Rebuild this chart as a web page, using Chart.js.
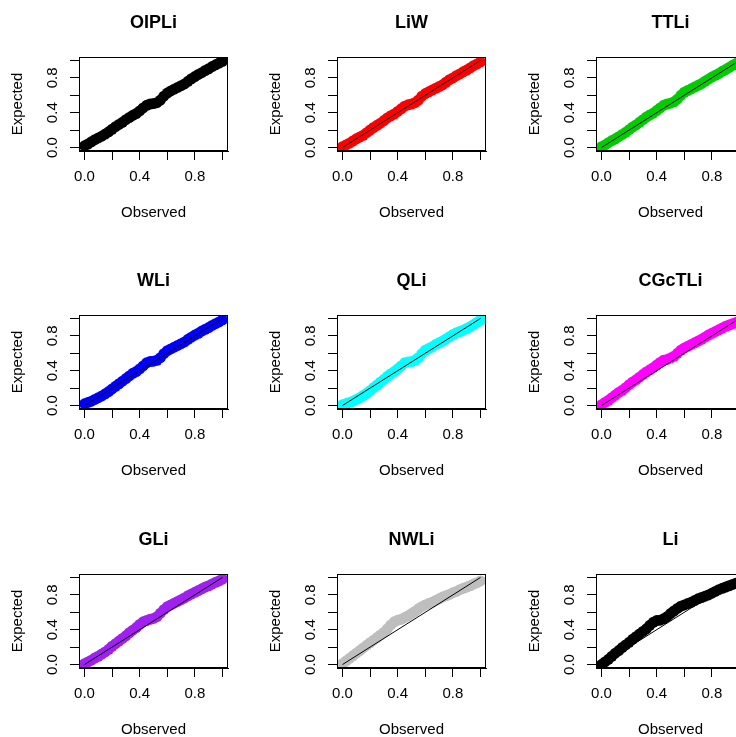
<!DOCTYPE html>
<html>
<head>
<meta charset="utf-8">
<script src="https://cdn.jsdelivr.net/npm/chart.js@4.4.0/dist/chart.umd.min.js"></script>
<style>
html, body { margin: 0; padding: 0; background: #fff; overflow: hidden; }
#grid { position: relative; width: 775px; height: 775px; }
#grid canvas { position: absolute; }
</style>
</head>
<body>
<div id="grid"></div>
<script>
// P-P plots: observed vs expected probabilities for each fitted model
var observed = [0, 0.025, 0.05, 0.075, 0.1, 0.125, 0.15, 0.175, 0.2, 0.225, 0.25, 0.275, 0.3, 0.325, 0.35, 0.375, 0.4, 0.425, 0.45, 0.475,
                0.5, 0.525, 0.55, 0.575, 0.6, 0.625, 0.65, 0.675, 0.7, 0.725, 0.75, 0.775, 0.8, 0.825, 0.85, 0.875, 0.9, 0.925, 0.95, 0.975, 1];

var expOIPLi = [0.02, 0.04, 0.065, 0.09, 0.11, 0.13, 0.155, 0.18, 0.21, 0.24, 0.265, 0.29, 0.32, 0.345, 0.37, 0.39, 0.42, 0.455, 0.485, 0.50,
                0.505, 0.515, 0.545, 0.59, 0.625, 0.65, 0.67, 0.69, 0.71, 0.73, 0.76, 0.79, 0.815, 0.84, 0.86, 0.885, 0.905, 0.93, 0.95, 0.97, 0.99];
var expLiW   = [0.01, 0.03, 0.05, 0.075, 0.10, 0.12, 0.14, 0.17, 0.20, 0.23, 0.255, 0.28, 0.31, 0.34, 0.365, 0.385, 0.415, 0.445, 0.475, 0.49,
                0.50, 0.515, 0.545, 0.59, 0.62, 0.64, 0.66, 0.68, 0.70, 0.72, 0.75, 0.78, 0.80, 0.825, 0.845, 0.87, 0.89, 0.915, 0.94, 0.96, 0.985];
var expTTLi  = [0.01, 0.03, 0.055, 0.08, 0.10, 0.125, 0.15, 0.175, 0.205, 0.235, 0.26, 0.29, 0.32, 0.35, 0.375, 0.395, 0.425, 0.455, 0.485, 0.50,
                0.51, 0.525, 0.555, 0.60, 0.635, 0.655, 0.675, 0.695, 0.715, 0.735, 0.76, 0.785, 0.81, 0.83, 0.85, 0.875, 0.895, 0.92, 0.945, 0.965, 0.99];
var expWLi   = [0.02, 0.035, 0.05, 0.07, 0.09, 0.11, 0.135, 0.16, 0.19, 0.22, 0.25, 0.28, 0.31, 0.34, 0.37, 0.39, 0.42, 0.455, 0.49, 0.505,
                0.51, 0.52, 0.55, 0.595, 0.63, 0.65, 0.67, 0.69, 0.71, 0.73, 0.76, 0.785, 0.81, 0.83, 0.855, 0.875, 0.895, 0.92, 0.94, 0.96, 0.985];
var expQLi   = [0.01, 0.02, 0.035, 0.05, 0.07, 0.09, 0.115, 0.14, 0.17, 0.205, 0.235, 0.27, 0.30, 0.335, 0.365, 0.39, 0.42, 0.455, 0.49, 0.50,
                0.505, 0.52, 0.55, 0.595, 0.635, 0.655, 0.675, 0.70, 0.72, 0.74, 0.765, 0.79, 0.815, 0.835, 0.85, 0.865, 0.885, 0.905, 0.93, 0.955, 0.985];
var expCGcTLi = [0.01, 0.035, 0.06, 0.09, 0.12, 0.15, 0.175, 0.205, 0.24, 0.27, 0.295, 0.325, 0.355, 0.385, 0.41, 0.435, 0.465, 0.495, 0.52, 0.53,
                0.545, 0.565, 0.60, 0.635, 0.66, 0.68, 0.70, 0.72, 0.74, 0.76, 0.785, 0.81, 0.83, 0.85, 0.87, 0.89, 0.91, 0.925, 0.94, 0.955, 0.97];
var expGLi   = [0.01, 0.03, 0.05, 0.075, 0.095, 0.12, 0.145, 0.175, 0.21, 0.24, 0.27, 0.30, 0.33, 0.365, 0.395, 0.425, 0.46, 0.49, 0.505, 0.52,
                0.53, 0.55, 0.59, 0.63, 0.665, 0.685, 0.705, 0.725, 0.745, 0.765, 0.79, 0.81, 0.83, 0.85, 0.87, 0.89, 0.905, 0.925, 0.945, 0.96, 0.98];
var expNWLi  = [0.01, 0.04, 0.07, 0.10, 0.13, 0.16, 0.19, 0.22, 0.25, 0.28, 0.31, 0.34, 0.37, 0.41, 0.455, 0.49, 0.51, 0.52, 0.54, 0.56,
                0.585, 0.61, 0.64, 0.665, 0.685, 0.70, 0.715, 0.735, 0.755, 0.775, 0.79, 0.805, 0.825, 0.84, 0.86, 0.875, 0.89, 0.905, 0.925, 0.94, 0.96];
var expLi    = [0.0, 0.03, 0.06, 0.095, 0.13, 0.16, 0.195, 0.225, 0.255, 0.29, 0.32, 0.35, 0.38, 0.41, 0.45, 0.485, 0.505, 0.51, 0.525, 0.55,
                0.585, 0.615, 0.645, 0.67, 0.685, 0.70, 0.715, 0.735, 0.755, 0.77, 0.785, 0.80, 0.82, 0.84, 0.86, 0.875, 0.89, 0.905, 0.92, 0.935, 0.95];

var titles = ['OIPLi', 'LiW', 'TTLi', 'WLi', 'QLi', 'CGcTLi', 'GLi', 'NWLi', 'Li'];
var series = [expOIPLi, expLiW, expTTLi, expWLi, expQLi, expCGcTLi, expGLi, expNWLi, expLi];
var colors = ['#000000', '#ff0000', '#00cd00', '#0000ff', '#00ffff', '#ff00ff', '#a020f0', '#bebebe', '#000000'];

var refLine = [0, 1];
var tickValues = [0, 0.2, 0.4, 0.6, 0.8, 1];
var tickLabels = ['0.0', '', '0.4', '', '0.8', ''];

Chart.defaults.font.family = "'Liberation Sans', Arial, Helvetica, sans-serif";
Chart.defaults.color = '#000';

// R-style box round the plot region
var boxPlugin = {
  id: 'box',
  afterDraw: function(chart) {
    var a = chart.chartArea, c = chart.ctx;
    c.save();
    c.strokeStyle = '#000';
    c.lineWidth = 1;
    c.strokeRect(Math.round(a.left) + 0.5, Math.round(a.top) + 0.5,
                 Math.round(a.right) - Math.round(a.left) - 1, Math.round(a.bottom) - Math.round(a.top) - 1);
    c.restore();
  }
};

function axis(title, isY) {
  return {
    type: 'linear',
    min: -0.04,
    max: 1.04,
    afterBuildTicks: function(s) { s.ticks = tickValues.map(function(v) { return { value: v }; }); },
    afterFit: function(s) { if (isY) { s.width = 79; } else { s.height = 107; } },
    grid: { drawOnChartArea: false, drawTicks: true, tickLength: 9, color: '#000', lineWidth: 1 },
    border: { display: true, color: '#000', width: 1 },
    ticks: {
      autoSkip: false,
      font: { size: 15 },
      padding: isY ? 7 : 8,
      minRotation: isY ? 90 : 0,
      maxRotation: isY ? 90 : 0,
      crossAlign: isY ? 'center' : 'near',
      callback: function(v, i) { return tickLabels[i]; }
    },
    title: { display: true, text: title, font: { size: 15 }, padding: isY ? { top: 9 } : { bottom: 36 } }
  };
}

// empty right-hand margin, so the main title centres over the plot box
var spacer = {
  type: 'linear',
  position: 'right',
  display: true,
  afterFit: function(s) { s.width = 79; },
  grid: { display: false },
  border: { display: false },
  ticks: { display: false }
};

var grid = document.getElementById('grid');
titles.forEach(function(name, k) {
  var col = k % 3, row = Math.floor(k / 3);
  var cv = document.createElement('canvas');
  cv.width = 307;
  cv.height = 258;
  cv.style.left = Math.round(col * 258.33) + 'px';
  cv.style.top = Math.round(row * 258.33) + 'px';
  grid.appendChild(cv);

  new Chart(cv, {
    type: 'scatter',
    data: {
      datasets: [{
        data: refLine.map(function(v) { return { x: v, y: v }; }),
        showLine: true,
        borderColor: '#000',
        borderWidth: 1,
        pointRadius: 0,
        order: 0
      }, {
        data: observed.map(function(x, i) { return { x: x, y: series[k][i] }; }),
        backgroundColor: colors[k],
        borderWidth: 0,
        pointRadius: 5.5,
        order: 1
      }]
    },
    options: {
      responsive: false,
      animation: false,
      layout: { padding: 0 },
      plugins: {
        legend: { display: false },
        tooltip: { enabled: false },
        title: { display: true, text: name, font: { size: 18, weight: 'bold' }, padding: { top: 12, bottom: 23.4 } }
      },
      scales: { x: axis('Observed', false), y: axis('Expected', true), yPad: spacer }
    },
    plugins: [boxPlugin]
  });
});
</script>
</body>
</html>
